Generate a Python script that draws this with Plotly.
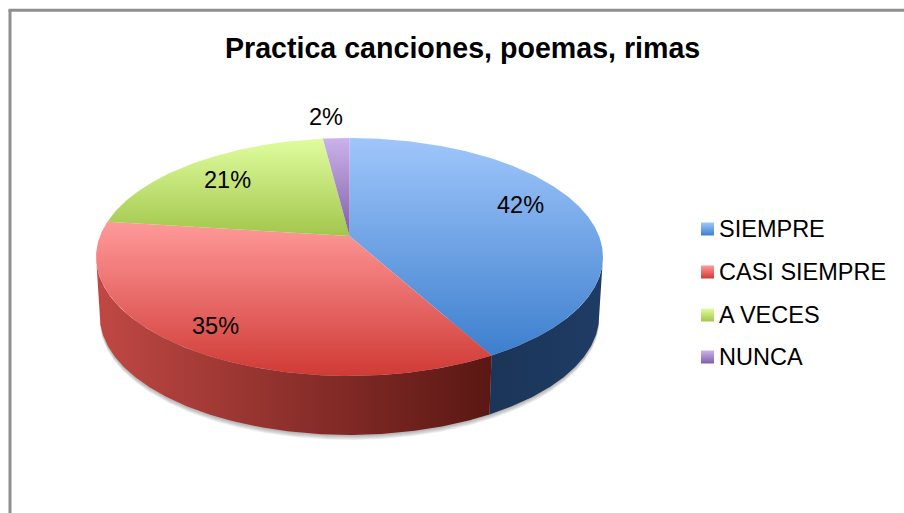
import numpy as np
import plotly.graph_objects as go

categories = ["SIEMPRE", "CASI SIEMPRE", "A VECES", "NUNCA"]
values = [42, 35, 21, 2]
labels = ["42%", "35%", "21%", "2%"]
title = "Practica canciones, poemas, rimas"

# gradient stops of the top faces and of the visible walls
top_colors = [["#9fc6fb", "#3d7fce"], ["#ff9a9a", "#d03a35"], ["#e0fd9f", "#a2c64c"], ["#cbb2ec", "#7f5fa6"]]
wall_colors = [["#1f3c65", "#1b3558"], ["#c04844", "#5a1713"]]

# picture layout, in pixels of the 904x513 page
CX, CY = 349.5, 236
SX, SY, TILT = 249.5, 115.3, 0.176
DEPTH, BOTTOM_K = 59, 0.985
label_xy = [(520, 205), (215, 326), (227, 180), (326, 117)]
legend_x, legend_y = 701, [229, 272, 315, 357]
FONT = "Liberation Sans"


def rim(theta, drop=0, k=1.0):
    # point on the tilted disc, theta clockwise from 12 o'clock in degrees
    t = np.radians(theta)
    u, v = np.sin(t), np.cos(t)
    w = 1 + TILT * v
    return CX + k * SX * u / w, CY - SY * v / w + drop


def arc(a, b, drop=0, k=1.0):
    n = max(int(abs(b - a) * 2), 2)
    return rim(np.linspace(a, b, n), drop, k)


def vertical(cols):
    # the y axis runs downwards, so the scale is flipped to keep the light end on top
    return dict(type="vertical", colorscale=[[0, cols[1]], [1, cols[0]]])


fig = go.Figure()

edges = np.cumsum([0] + values) / sum(values) * 360

# soft shadow under the disc
for off in [5, 4, 3, 2, 1]:
    x, y = arc(100, 260, DEPTH + off, BOTTOM_K)
    fig.add_trace(go.Scatter(x=x, y=y, mode="lines", fill="toself", line=dict(width=0),
                             fillcolor="rgba(90,90,90,0.10)", hoverinfo="skip"))

# walls, only the two front slices show one (horizontal scale runs left to right)
wall_ranges = [(100, edges[1]), (edges[1], 260)]
wall_cols = [wall_colors[0][::-1], wall_colors[1]]
for (a, b), cols in zip(wall_ranges, wall_cols):
    xt, yt = arc(a, b)
    xb, yb = arc(b, a, DEPTH, BOTTOM_K)
    fig.add_trace(go.Scatter(
        x=np.r_[xt, xb], y=np.r_[yt, yb], mode="lines", fill="toself", line=dict(width=0),
        fillgradient=dict(type="horizontal", colorscale=[[0, cols[0]], [1, cols[1]]]),
        hoverinfo="skip"))

# top faces
for i in range(len(values)):
    xa, ya = arc(edges[i], edges[i + 1])
    fig.add_trace(go.Scatter(
        x=np.r_[CX, xa, CX], y=np.r_[CY, ya, CY], mode="lines", fill="toself", line=dict(width=0),
        fillgradient=vertical(top_colors[i]), hoverinfo="skip"))

# legend
for i, name in enumerate(categories):
    y0 = legend_y[i]
    fig.add_trace(go.Scatter(
        x=[legend_x, legend_x + 13, legend_x + 13, legend_x, legend_x],
        y=[y0 - 6.5, y0 - 6.5, y0 + 6.5, y0 + 6.5, y0 - 6.5],
        mode="lines", fill="toself", line=dict(width=0),
        fillgradient=vertical(top_colors[i]), hoverinfo="skip"))
    fig.add_annotation(x=716.5, y=y0, text=name, showarrow=False, xanchor="left", yanchor="middle",
                       font=dict(family=FONT, size=23.5, color="#000000"))

for txt, (x, y) in zip(labels, label_xy):
    fig.add_annotation(x=x, y=y, text=txt, showarrow=False, font=dict(family=FONT, size=23.5, color="#000000"))

fig.add_annotation(x=462.5, y=48, text="<b>%s</b>" % title, showarrow=False,
                   font=dict(family=FONT, size=28.6, color="#000000"))

# chart frame, only the top and left edges are inside the picture
fig.add_shape(type="line", x0=10, x1=10, y0=10, y1=513, line=dict(color="#8f8f8f", width=3))
fig.add_shape(type="line", x0=8.5, x1=904, y0=10.3, y1=10.3, line=dict(color="#8f8f8f", width=3))

fig.update_layout(
    width=904, height=513, margin=dict(l=0, r=0, t=0, b=0),
    paper_bgcolor="white", plot_bgcolor="white", showlegend=False,
    xaxis=dict(range=[0, 904], visible=False, fixedrange=True),
    yaxis=dict(range=[513, 0], visible=False, fixedrange=True),
)
fig.write_html("out.html", config={"displayModeBar": False},
               post_script="document.body.style.margin='0';document.body.style.overflow='hidden';")
